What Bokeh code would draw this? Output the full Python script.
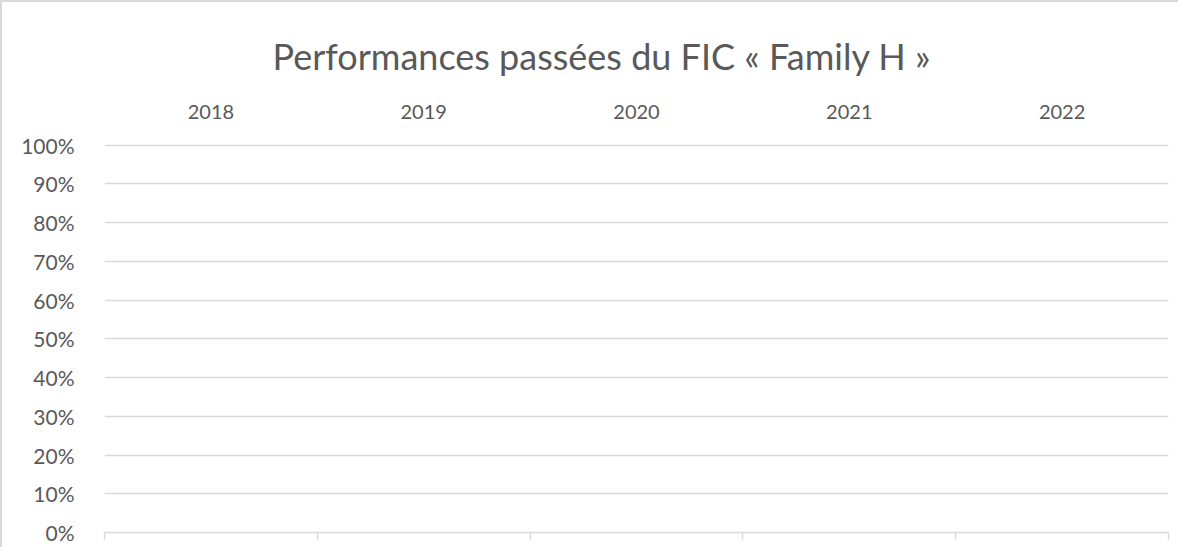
from bokeh.plotting import figure
from bokeh.models import (Range1d, LinearAxis, FixedTicker, NumeralTickFormatter, ColumnDataSource)
from bokeh.embed import file_html
from bokeh.resources import INLINE

title_text = "Performances passées du FIC « Family H »"
years = ["2018", "2019", "2020", "2021", "2022"]
performance = [float("nan")] * 5  # no values shown in the chart
y_ticks = [0, 0.1, 0.2, 0.3, 0.4, 0.5, 0.6, 0.7, 0.8, 0.9, 1.0]

FONT = "Lato"
TXT = "#595959"
GRID = "#d9d9d9"

n = len(years)
centers = [i + 0.5 for i in range(n)]
edges = list(range(n + 1))

p = figure(width=1178, height=547, output_backend="svg", toolbar_location=None,
           x_range=Range1d(0, n), y_range=Range1d(0, 1.004),
           x_axis_location=None, y_axis_location=None,
           min_border_left=102, min_border_right=12, min_border_top=141, min_border_bottom=17)
p.outline_line_color = None
p.background_fill_color = "white"
p.border_fill_color = "white"
p.styles = {"border-top": "2px solid #d9d9d9", "border-left": "2px solid #d9d9d9",
            "border-right": "none", "border-bottom": "none"}

p.title.text = title_text
p.title.align = "left"
p.title.text_font = FONT
p.title.text_font_size = "36px"
p.title.text_font_style = "normal"
p.title.text_color = TXT
p.title.offset = 168
p.title.standoff = 48

src = ColumnDataSource(dict(x=centers, top=performance))
p.vbar(x="x", top="top", width=0.6, source=src, color="#4472c4")

top_axis = LinearAxis(ticker=FixedTicker(ticks=centers),
                      major_label_overrides={c: y for c, y in zip(centers, years)})
top_axis.axis_line_color = None
top_axis.major_tick_line_color = None
top_axis.minor_tick_line_color = None
top_axis.major_label_text_font = FONT
top_axis.major_label_text_font_size = "20px"
top_axis.major_label_text_color = TXT
top_axis.major_label_standoff = 19
p.add_layout(top_axis, "above")

left_axis = LinearAxis(ticker=FixedTicker(ticks=y_ticks), formatter=NumeralTickFormatter(format="0%"))
left_axis.axis_line_color = None
left_axis.major_tick_line_color = None
left_axis.minor_tick_line_color = None
left_axis.major_label_text_font = FONT
left_axis.major_label_text_font_size = "21px"
left_axis.major_label_text_color = TXT
left_axis.major_label_standoff = 24
p.add_layout(left_axis, "left")

bottom_axis = LinearAxis(ticker=FixedTicker(ticks=edges))
bottom_axis.axis_line_color = GRID
bottom_axis.axis_line_width = 1.5
bottom_axis.major_tick_line_color = GRID
bottom_axis.major_tick_line_width = 1.5
bottom_axis.major_tick_in = 0
bottom_axis.major_tick_out = 7
bottom_axis.minor_tick_line_color = None
bottom_axis.major_label_text_font_size = "0px"
bottom_axis.major_label_text_alpha = 0
p.add_layout(bottom_axis, "below")

p.xgrid.grid_line_color = None
p.ygrid.ticker = FixedTicker(ticks=y_ticks)
p.ygrid.grid_line_color = GRID
p.ygrid.grid_line_width = 1.5

open("out.html", "w").write(file_html(p, INLINE))
